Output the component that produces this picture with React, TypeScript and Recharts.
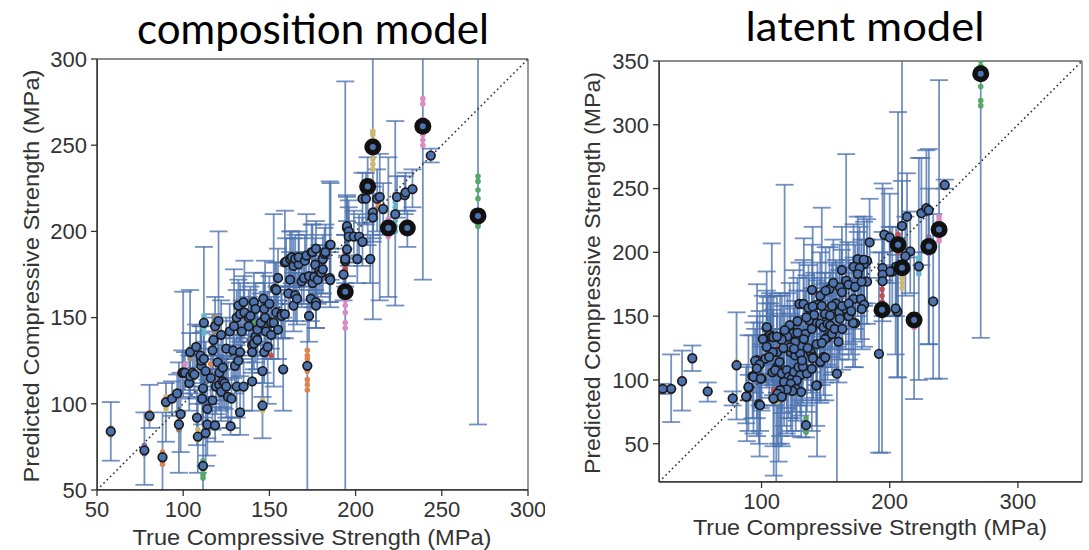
import { ScatterChart, Scatter, XAxis, YAxis, ErrorBar, ReferenceLine } from "recharts";

// [true, predicted, bar low, bar high]
type Pt = [number, number, number, number];
// [true, predicted, colour]
type Dot = [number, number, string];

const compositionPoints: Pt[] = [
  [58, 84, 67, 101], [77.5, 73, 53, 95], [80.5, 93, 86, 111], [88, 69, 45, 95], [90, 101, 78, 112],
  [93.5, 103, 93, 113], [96.5, 106, 95, 117], [97.5, 88, 60, 124], [98.5, 94, 72, 118], [99.5, 118, 106, 131],
  [100, 118, 104, 165], [101, 118, 108, 130], [103.5, 112, 96, 128], [104, 116, 103, 166], [105.5, 118, 110, 128],
  [106.5, 117, 106, 129], [104, 130, 118, 141], [107.5, 133, 121, 146], [108, 92, 76, 108], [108.5, 81, 60, 100],
  [110.5, 122, 104, 141], [110.5, 125, 104, 145], [111, 103, 88, 118], [111.5, 109, 92, 128], [111.5, 64, 40, 118],
  [112, 147, 100, 191], [113, 83, 64, 101], [114, 88, 70, 104], [114, 97, 80, 114], [113, 119, 102, 136],
  [110, 128, 112, 145], [112, 126, 110, 142], [116, 115, 100, 132], [117, 102, 85, 120], [117, 131, 114, 150],
  [117.5, 137, 120, 152], [118.5, 145, 128, 162], [118.5, 87.5, 78, 98], [119, 110, 94, 126], [120, 124, 108, 140],
  [120.5, 148, 110, 200], [121, 111, 96, 128], [121, 118, 102, 134], [122, 107, 90, 124], [122, 140, 120, 160],
  [123, 121, 104, 138], [123, 113, 98, 128], [124, 112, 97, 127], [125, 110, 92, 126], [125, 132, 114, 150],
  [126, 104, 86, 124], [127, 142, 126, 158], [127.5, 87, 82, 92], [128, 103, 86, 120], [129, 131, 115, 148],
  [129.5, 145, 130, 178], [130, 122, 106, 138], [131, 110, 92, 128], [131, 150, 134, 166], [132, 125, 110, 140],
  [132, 157, 140, 172], [133, 95, 82, 110], [133, 130, 116, 146], [133, 152, 136, 170], [134, 142, 124, 160],
  [135, 110, 96, 126], [135, 159, 144, 174], [135.5, 153, 138, 183], [138, 150, 136, 166], [138, 145, 130, 162],
  [139, 151, 136, 168], [140, 134, 118, 150], [140, 130, 112, 146], [140, 113, 96, 128], [141, 135, 120, 150],
  [141, 159, 144, 176], [142, 139, 124, 154], [142, 155, 140, 170], [143, 137, 120, 156], [143, 143, 128, 158],
  [145, 147, 130, 164], [146, 119, 104, 136], [146, 99, 80, 118], [146.5, 161, 146, 176], [147, 130, 112, 146],
  [147, 155, 140, 170], [147.5, 150, 134, 183], [148, 142, 126, 160], [149, 133, 100, 165], [150, 158, 142, 174],
  [151, 147, 132, 162], [151, 140, 126, 156], [152.5, 147, 110, 210], [153.3, 166.6, 150, 182], [154, 153, 138, 168],
  [154, 166, 150, 182], [155, 143, 126, 160], [155, 173, 158, 190], [157, 152, 138, 166], [157, 151, 138, 164],
  [158, 120, 96, 150], [159, 152, 138, 168], [159, 182, 166, 212], [159.7, 182.6, 168, 196], [161, 164, 148, 180],
  [162, 172, 158, 188], [162, 184, 168, 200], [163, 185, 170, 200], [164, 180, 166, 196], [164, 157, 142, 176],
  [165, 163, 148, 178], [165, 184, 168, 198], [166, 161, 146, 176], [167, 181, 168, 196], [167, 185, 170, 200],
  [168.7, 171, 156, 186], [170, 173, 158, 188], [170.6, 183, 168, 198], [171.5, 186, 170, 210], [172, 122, 40, 158],
  [173, 174, 160, 188], [173, 151, 136, 166], [174, 161, 148, 176], [174.5, 188, 172, 204], [175, 170, 156, 184],
  [175, 188, 174, 204], [176, 173.6, 160, 188], [176.6, 180.7, 166, 196], [177, 190, 176, 206], [177, 159, 144, 176],
  [177, 157, 144, 172], [178, 172, 158, 186], [179, 177, 164, 192], [180, 176, 162, 190], [181, 184, 170, 198],
  [181, 178, 164, 192], [182, 187, 172, 202], [182.5, 188, 174, 204], [185, 192, 159, 229], [185, 173, 159, 190],
  [185.3, 171.8, 156, 188], [185.5, 192.3, 172, 228], [193, 175, 160, 190], [194, 182.8, 168, 198], [194, 184, 170, 198],
  [195, 189.6, 174, 206], [195, 202, 185, 220], [195, 203, 186, 221], [196, 200, 182, 218], [196, 197, 180, 214],
  [199, 197, 182, 212], [201, 184, 170, 198], [202, 197, 184, 210], [204, 194, 180, 208], [204, 219, 205, 234],
  [206, 219, 204, 234], [208.5, 184, 170, 198], [210, 211, 196, 226], [210, 208, 194, 222], [212.5, 219, 200, 236],
  [214, 220, 160, 245], [216, 213, 198, 228], [223, 210, 157, 264], [224, 220, 208, 232], [228.5, 221, 210, 232],
  [229, 222.6, 212, 234], [233, 224.5, 214, 236], [243.6, 244, 240, 248],
];

const compositionHighlights: Pt[] = [
  [194, 165, 30, 287], [207, 226, 192, 243], [210, 249, 149, 320], [219, 202, 162, 243],
  [230, 202, 191, 212], [239, 261, 172, 320], [271, 209, 88, 320],
];

const compositionEnsemble: Dot[] = [
  [88, 72, "orange"], [88, 70, "orange"], [88, 67, "orange"], [88, 65, "orange"],
  [90, 104, "yellow"], [90, 102, "yellow"], [90, 99, "yellow"], [90, 97, "yellow"],
  [58, 86, "brown"], [58, 82, "brown"], [77.5, 76, "purple"], [77.5, 71, "purple"],
  [80.5, 95, "orange"], [80.5, 91, "orange"], [97.5, 90, "brown"], [97.5, 85, "brown"],
  [108.5, 85, "yellow"], [108.5, 82, "yellow"], [108.5, 79, "yellow"],
  [111.5, 67, "green"], [111.5, 62, "green"], [111.5, 59, "green"], [111.5, 57, "green"],
  [112, 151, "cyan"], [112, 148, "cyan"], [112, 144, "cyan"], [112, 141, "cyan"],
  [118, 151, "gray"], [118, 147, "gray"], [118, 142, "gray"], [118, 139, "gray"],
  [104, 132, "gray"], [104, 129, "gray"], [104, 126, "gray"],
  [101, 123, "pink"], [101, 120, "pink"], [101, 116, "pink"],
  [146, 102, "yellow"], [146, 98, "yellow"], [146, 96, "yellow"],
  [172, 131, "orange"], [172, 128, "orange"], [172, 126, "orange"], [172, 122, "orange"],
  [172, 119, "orange"], [172, 114, "orange"], [172, 111, "orange"], [172, 108, "orange"],
  [194, 176, "pink"], [194, 160, "pink"], [194, 157, "pink"], [194, 153, "pink"], [194, 147, "pink"], [194, 144, "pink"],
  [194, 187, "red"], [194, 181, "red"], [194, 178, "red"],
  [210, 258, "yellow"], [210, 256, "yellow"], [210, 253, "yellow"], [210, 245, "yellow"],
  [210, 242, "yellow"], [210, 239, "yellow"], [210, 236, "yellow"],
  [239, 277, "pink"], [239, 274, "pink"], [239, 265, "pink"], [239, 256, "pink"], [239, 253, "pink"], [239, 250, "pink"],
  [271, 232, "green"], [271, 229, "green"], [271, 224, "green"], [271, 219, "green"],
  [271, 206, "green"], [271, 204, "green"], [271, 203, "green"],
  [219, 207, "pink"], [219, 199, "pink"], [219, 197, "pink"],
  [223, 217, "cyan"], [223, 214, "cyan"], [223, 206, "cyan"], [223, 203, "cyan"], [223, 200, "cyan"],
  [213, 216, "orange"], [212, 213, "brown"], [130, 148, "red"], [120, 139, "red"], [141, 147, "green"],
  [120, 117, "pink"], [116, 123, "orange"], [151, 128, "red"],
];

const latentPoints: Pt[] = [
  [23, 93, 89, 97], [29.5, 93, 67, 120], [38, 99, 76, 123], [46, 117, 107, 127], [58, 91, 83, 98],
  [77.5, 85.5, 80, 91], [80.5, 111.5, 69, 153], [88.5, 87, 52, 112], [90, 94, 84, 104], [93, 103, 70, 135],
  [96.5, 115.5, 56, 175], [98.5, 112, 40, 154], [100, 101, 76, 128], [98, 81, 50, 105], [103, 116.7, 100, 135],
  [104, 141, 112, 185], [107, 135, 112, 160], [105, 134, 96, 165], [108.5, 106, 80, 135], [112, 110, 90, 130],
  [109.5, 85.5, 25, 140], [111.5, 87, 20, 120], [113.3, 89, 36, 122], [115, 92, 50, 140], [95, 115, 90, 140],
  [98.4, 112.2, 80, 145], [96.3, 109, 70, 150], [93.7, 102.4, 58, 145], [99.4, 101, 78, 126], [89.8, 94.5, 60, 135],
  [88, 87, 66, 110], [110.6, 107.6, 80, 140], [114, 114, 84, 150], [115.8, 105, 74, 136], [119.7, 107.6, 78, 140],
  [121, 102.4, 70, 135], [123.6, 101, 70, 130], [125.4, 106.3, 75, 140], [128.8, 110, 80, 142], [130.2, 103.7, 72, 136],
  [135.4, 105, 75, 138], [132.2, 110.6, 82, 142], [127.5, 99.7, 68, 130], [117.6, 98.4, 64, 132], [122.8, 97, 60, 135],
  [126.7, 93, 60, 128], [131, 90.6, 55, 125], [124, 91.4, 56, 126], [119.7, 92.5, 58, 126], [114.5, 92, 56, 130],
  [112.4, 89.3, 50, 128], [109.3, 85.4, 48, 122], [115.8, 86.8, 48, 125], [98.9, 80.2, 60, 100], [134.7, 64.5, 55, 80],
  [143.3, 95.8, 40, 130], [158.8, 104.9, 10, 190], [112, 121.8, 90, 152], [108.8, 121.8, 88, 155], [122.8, 121.8, 92, 152],
  [126.2, 119.2, 88, 150], [130.2, 120.5, 92, 150], [131.5, 115.3, 84, 146], [138.6, 121, 90, 152], [140.1, 118, 86, 150],
  [145.8, 114, 84, 148], [148.4, 118, 88, 150], [139.2, 108.7, 60, 140], [134.1, 136.1, 104, 170], [124.9, 136.7, 104, 186],
  [120.2, 134, 100, 168], [126.2, 129.6, 98, 162], [122.3, 125.7, 94, 158], [125.4, 124.4, 94, 156], [104.1, 141.4, 112, 170],
  [106.7, 135, 100, 168], [108, 133.5, 98, 207], [109.3, 133.5, 96, 166], [114.5, 133, 100, 168], [115.8, 131.5, 98, 166],
  [137.1, 146.7, 114, 180], [143.1, 144.5, 112, 178], [145.8, 144, 110, 180], [148.4, 141.4, 110, 175], [139.2, 140, 106, 172],
  [151.5, 144, 112, 176], [153.6, 142.7, 110, 176], [151.5, 133.5, 100, 166], [154.9, 136, 104, 168], [149.5, 132, 98, 166],
  [149.5, 151.8, 120, 184], [153.4, 150.5, 118, 184], [160.6, 153, 120, 186], [165.8, 155.7, 124, 188], [161.1, 148, 116, 180],
  [129.6, 159.6, 126, 192], [132.7, 159.6, 126, 194], [136.6, 156.5, 124, 190], [143.6, 159, 126, 192], [153, 171.3, 138, 204],
  [145.8, 166, 134, 200], [139.4, 170.6, 136, 206], [139.9, 157.6, 124, 220], [171.8, 163.5, 130, 196], [177.5, 163.5, 132, 196],
  [180, 159, 126, 192], [178.2, 155.7, 124, 188], [173, 144.5, 110, 178], [184.3, 207.8, 180, 242], [175, 194.7, 160, 228],
  [182.3, 193.4, 160, 226], [180, 190.8, 158, 224], [171.8, 188.8, 156, 222], [176.5, 187.8, 154, 220], [162.7, 186.1, 152, 220],
  [175, 183, 150, 216], [166, 177.8, 144, 277], [167.8, 174.7, 142, 208], [161, 172.6, 140, 206], [162.7, 168.7, 136, 202],
  [173, 173, 140, 206], [171.4, 144.7, 110, 180], [145.8, 114.3, 82, 148], [140, 117, 84, 150], [149.7, 117.5, 84, 150],
  [142.7, 95.7, 64, 128], [191.6, 120.5, 43, 200], [205.9, 153.6, 102, 198], [233.9, 161.5, 101, 230], [204.6, 156, 120, 190],
  [242.9, 252.8, 250, 257], [224.7, 230.7, 190, 274], [228.6, 234.6, 200, 280], [230.4, 233, 128, 250], [213.5, 228, 196, 262],
  [209.6, 220.8, 186, 256], [195.8, 213.8, 178, 250], [200, 211.7, 176, 246], [216, 200.8, 168, 232], [212.2, 197, 166, 228],
  [205, 188.8, 150, 220], [202, 185, 150, 220], [200, 185, 150, 220], [194.4, 187.8, 154, 254], [194.4, 182.6, 150, 216],
  [194.4, 177.4, 146, 210], [179.7, 194.3, 160, 228], [182.3, 177, 144, 210], [178, 177, 144, 210], [222.7, 189, 100, 274],
  [150, 170, 136, 204], [156, 176, 142, 210], [158, 160, 126, 194], [163, 158, 124, 192], [168, 160, 128, 194],
  [155, 158, 124, 192], [147, 158, 124, 235], [141, 151, 118, 184], [135, 149, 116, 182], [128, 146, 112, 180],
  [122, 143, 110, 176], [118, 139, 104, 253], [112, 134, 100, 166], [101, 132, 98, 166], [104, 126, 94, 160],
  [106, 118, 86, 150], [117, 125, 92, 158], [128, 137, 104, 170], [133, 132, 100, 211], [136, 125, 92, 158],
  [143, 128, 96, 160], [147, 129, 96, 162], [157, 140, 106, 174], [160, 130, 98, 164], [163, 140, 108, 174],
  [168, 150, 116, 184], [170, 154, 120, 188],
];

const latentHighlights: Pt[] = [
  [194, 155, 43, 200], [206.5, 206, 102, 310], [209.6, 188, 0, 360], [219, 147, 85, 200],
  [230.5, 204.5, 128, 281], [238.5, 218, 101, 335], [271, 340, 133, 360],
];

const latentEnsemble: Dot[] = [
  [271, 350, "green"], [271, 346, "green"], [271, 330, "green"], [271, 319, "green"], [271, 315, "green"],
  [238.5, 228, "pink"], [238.5, 225, "pink"], [238.5, 212, "pink"], [238.5, 209, "pink"],
  [230.5, 212, "purple"], [230.5, 209, "purple"], [230.5, 199, "purple"],
  [206.5, 214, "red"], [206.5, 211, "red"], [206.5, 200, "red"],
  [209.6, 184, "yellow"], [209.6, 180, "yellow"], [209.6, 176, "yellow"], [209.6, 172, "yellow"],
  [194, 176, "red"], [194, 171, "red"], [194, 166, "red"], [194, 161, "red"], [194, 151, "pink"],
  [219, 143, "pink"], [219, 141, "pink"],
  [222.7, 196, "cyan"], [222.7, 193, "cyan"], [222.7, 186, "cyan"], [222.7, 183, "cyan"],
  [134.7, 70, "green"], [134.7, 67, "green"], [134.7, 61, "green"], [134.7, 59, "green"],
  [80.5, 114, "orange"], [80.5, 110, "orange"], [29.5, 91, "orange"], [38, 101, "red"], [38, 97, "red"],
  [109.5, 92, "red"], [109.5, 88, "red"], [112, 86, "yellow"], [112, 83, "yellow"],
  [140, 120, "green"], [104.1, 144, "cyan"], [153.6, 140, "orange"], [150, 130, "pink"], [113, 125, "red"],
  [120, 102, "yellow"], [165.8, 152, "orange"], [173, 190, "purple"],
];

const compositionTicks = [50, 100, 150, 200, 250, 300];
const latentXTicks = [100, 200, 300];
const latentYTicks = [50, 100, 150, 200, 250, 300, 350];

const palette: Record<string, string> = {
  orange: "#DD8452", green: "#55A868", red: "#C44E52", purple: "#8172B3", brown: "#937860",
  pink: "#DA8BC3", gray: "#8C8C8C", yellow: "#CCB974", cyan: "#64B5CD",
};

const BLUE = "#4C72B0";
const FONT = "'Liberation Sans', Arial, sans-serif";
const TITLE_FONT = "Lato, 'Open Sans', sans-serif";

const toRows = (pts: Pt[]) => pts.map(([x, y, lo, hi]) => ({ x, y, err: [y - lo, hi - y] }));

const PointShape = (p: any) => (
  <circle cx={p.cx} cy={p.cy} r={4.3} fill={BLUE} stroke="#1b1b1b" strokeWidth={1.7} />
);
const BigShape = (p: any) => (
  <g>
    <circle cx={p.cx} cy={p.cy} r={8.5} fill="#111" />
    <circle cx={p.cx} cy={p.cy} r={3} fill={BLUE} />
  </g>
);
const NoShape = () => <g />;

type PanelProps = {
  left: number;
  width: number;
  top: number;
  right: number;
  yAxisWidth: number;
  xAxisHeight: number;
  domain: [number, number];
  xTicks: number[];
  yTicks: number[];
  points: Pt[];
  highlights: Pt[];
  ensemble: Dot[];
};

const Panel = (props: PanelProps) => {
  const { domain } = props;
  const tick = { fill: "#333", fontSize: 22, fontFamily: FONT };
  const colours = Object.keys(palette);
  const margin = { top: props.top, right: props.right, bottom: 0, left: 0 };

  const axes = () => [
    <XAxis
      key="x"
      type="number"
      dataKey="x"
      domain={domain}
      ticks={props.xTicks}
      interval={0}
      allowDataOverflow
      height={props.xAxisHeight}
      tick={tick}
      tickSize={6}
      tickMargin={5}
      axisLine={{ stroke: "#333", strokeWidth: 1.5 }}
      tickLine={{ stroke: "#333", strokeWidth: 1.3 }}
    />,
    <YAxis
      key="y"
      type="number"
      dataKey="y"
      domain={domain}
      ticks={props.yTicks}
      interval={0}
      allowDataOverflow
      width={props.yAxisWidth}
      tick={tick}
      tickSize={6}
      tickMargin={4}
      axisLine={{ stroke: "#333", strokeWidth: 1.5 }}
      tickLine={{ stroke: "#333", strokeWidth: 1.3 }}
    />,
  ];

  // error bars sit in their own chart, clipped to the plot area
  const clip = `inset(${props.top}px ${props.right}px ${props.xAxisHeight}px ${props.yAxisWidth}px)`;

  return (
    <div style={{ position: "absolute", left: props.left, top: 0, width: props.width, height: 550 }}>
      <div style={{ position: "absolute", left: 0, top: 0, clipPath: clip }}>
        <ScatterChart width={props.width} height={550} margin={margin}>
          {axes()}
          <Scatter data={toRows([...props.points, ...props.highlights])} shape={NoShape} isAnimationActive={false}>
            <ErrorBar
              dataKey="err"
              direction="y"
              width={9}
              stroke={BLUE}
              strokeOpacity={0.78}
              strokeWidth={1.8}
              isAnimationActive={false}
            />
          </Scatter>
        </ScatterChart>
      </div>
      <div style={{ position: "absolute", left: 0, top: 0 }}>
        <ScatterChart width={props.width} height={550} margin={margin}>
          {axes()}
          <ReferenceLine y={domain[1]} stroke="#666" strokeWidth={1.3} />
          <ReferenceLine x={domain[1]} stroke="#666" strokeWidth={1.3} />
          <ReferenceLine
            segment={[{ x: domain[0], y: domain[0] }, { x: domain[1], y: domain[1] }]}
            stroke="#333"
            strokeWidth={1.6}
            strokeDasharray="1.6 3"
          />
          {colours.map((c) => (
            <Scatter
              key={c}
              data={props.ensemble.filter((d) => d[2] === c).map(([x, y]) => ({ x, y }))}
              shape={(p: any) => <circle cx={p.cx} cy={p.cy} r={2.8} fill={palette[c]} />}
              isAnimationActive={false}
            />
          ))}
          <Scatter data={toRows(props.points)} shape={PointShape} isAnimationActive={false} />
          <Scatter data={toRows(props.highlights)} shape={BigShape} isAnimationActive={false} />
        </ScatterChart>
      </div>
    </div>
  );
};

export default function App() {
  return (
    <div style={{ position: "absolute", left: 0, top: 0, width: 1089, height: 550, background: "#fff" }}>
      <Panel
        left={0}
        width={545}
        top={59}
        right={17}
        yAxisWidth={97}
        xAxisHeight={60}
        domain={[50, 300]}
        xTicks={compositionTicks}
        yTicks={compositionTicks}
        points={compositionPoints}
        highlights={compositionHighlights}
        ensemble={compositionEnsemble}
      />
      <Panel
        left={560}
        width={529}
        top={61}
        right={7}
        yAxisWidth={99}
        xAxisHeight={68}
        domain={[20, 350]}
        xTicks={latentXTicks}
        yTicks={latentYTicks}
        points={latentPoints}
        highlights={latentHighlights}
        ensemble={latentEnsemble}
      />
      <svg
        width={1089}
        height={550}
        style={{ position: "absolute", left: 0, top: 0, pointerEvents: "none" }}
      >
        <text x={313} y={44} textAnchor="middle" fontFamily={TITLE_FONT} fontSize={43} fill="#000"
          textLength={352} lengthAdjust="spacingAndGlyphs">composition model</text>
        <text x={865} y={41} textAnchor="middle" fontFamily={TITLE_FONT} fontSize={40} fill="#000"
          textLength={239} lengthAdjust="spacingAndGlyphs">latent model</text>
        <text x={312} y={545} textAnchor="middle" fontFamily={FONT} fontSize={22} fill="#333"
          textLength={359} lengthAdjust="spacingAndGlyphs">True Compressive Strength (MPa)</text>
        <text x={870} y={535} textAnchor="middle" fontFamily={FONT} fontSize={22} fill="#333"
          textLength={354} lengthAdjust="spacingAndGlyphs">True Compressive Strength (MPa)</text>
        <text transform="translate(39 276) rotate(-90)" textAnchor="middle" fontFamily={FONT} fontSize={22} fill="#333"
          textLength={413} lengthAdjust="spacingAndGlyphs">Predicted Compressive Strength (MPa)</text>
        <text transform="translate(600 273) rotate(-90)" textAnchor="middle" fontFamily={FONT} fontSize={22} fill="#333"
          textLength={402} lengthAdjust="spacingAndGlyphs">Predicted Compressive Strength (MPa)</text>
      </svg>
    </div>
  );
}
